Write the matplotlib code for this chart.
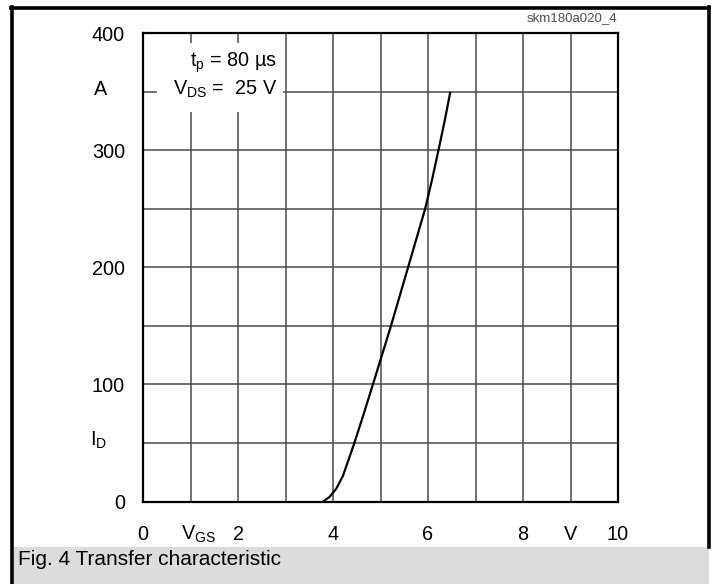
import numpy as np
import matplotlib
matplotlib.use('Agg')
import matplotlib.pyplot as plt
from matplotlib.patches import Rectangle
from matplotlib.lines import Line2D

plt.rcParams.update({
    "font.family": ["Liberation Sans", "DejaVu Sans"],
    "mathtext.fontset": "custom",
    "mathtext.rm": "Liberation Sans",
    "mathtext.it": "Liberation Sans:italic",
    "mathtext.default": "regular",
})

# transfer characteristic
vgs = [3.79, 3.93, 4.07, 4.21, 4.45, 4.64, 4.84, 5.03, 5.22, 5.40, 5.58,
       5.76, 5.94, 6.08, 6.22, 6.35, 6.47]
i_d = [0, 4, 11, 22, 50, 74, 100, 125, 150, 175, 200,
       225, 250, 274, 300, 325, 350]

x_ticks = list(range(0, 11))
x_labels = ['0', '', '2', '', '4', '', '6', '', '8', 'V', '10']
y_ticks = list(range(0, 401, 50))
y_labels = ['0', '', '100', '', '200', '', '300', '', '400']

W, H = 715, 584
fs = 14.3
fig = plt.figure(figsize=(W / 100, H / 100), dpi=100)

def fx(px):
    return px / W

def fy(py):
    return 1 - py / H

ax = fig.add_axes([fx(143), fy(501.5), fx(618) - fx(143), fy(33.3) - fy(501.5)])
ax.set_xlim(0, 10)
ax.set_ylim(0, 400)
ax.set_xticks(x_ticks)
ax.set_xticklabels(x_labels)
ax.set_yticks(y_ticks)
ax.set_yticklabels(y_labels)
ax.tick_params(axis='x', length=0, pad=17, labelsize=fs)
ax.tick_params(axis='y', length=0, pad=13, labelsize=fs)
ax.grid(True, color='#4a4a4a', linewidth=1.1)
ax.set_axisbelow(True)
for s in ax.spines.values():
    s.set_linewidth(1.6)
    s.set_color('black')

ax.plot(vgs, i_d, color='black', linewidth=1.6, zorder=3,
        solid_capstyle='butt', solid_joinstyle='round')

# white box behind the conditions text
ax.add_patch(Rectangle((0.29, 332.7), 2.66, 59, facecolor='white', edgecolor='none', zorder=2))
ax.text(2.82, 371.5, '$t_p$ = 80 µs', ha='right', va='baseline', fontsize=fs, zorder=4)
ax.text(2.82, 347.3, '$V_{DS}$ =  25 V', ha='right', va='baseline', fontsize=fs, zorder=4)

# axis unit / quantity labels
ax.text(-0.884, 347.3, 'A', ha='center', va='baseline', fontsize=fs, clip_on=False)
ax.text(-0.93, 47.7, '$I_D$', ha='center', va='baseline', fontsize=fs, clip_on=False)
ax.text(0.8, -32.9, '$V_{GS}$', ha='left', va='baseline', fontsize=fs, clip_on=False)

# frame and caption bar
lw = 2.6
fig.add_artist(Line2D([fx(11), fx(709)], [fy(7.5), fy(7.5)], color='black', linewidth=lw))
fig.add_artist(Line2D([fx(12), fx(12)], [fy(7), fy(584)], color='black', linewidth=lw))
fig.add_artist(Line2D([fx(709), fx(709)], [fy(7), fy(547)], color='black', linewidth=lw))
fig.add_artist(Rectangle((fx(13.5), fy(584)), fx(709) - fx(13.5), fy(547) - fy(584),
                         facecolor='#dcdcdc', edgecolor='none'))

fig.text(fx(18), fy(565), 'Fig. 4 Transfer characteristic', ha='left', va='baseline', fontsize=15)
fig.text(fx(617), fy(21), 'skm180a020_4', ha='right', va='baseline', fontsize=9.5, color='#505050')

fig.savefig('out.png', dpi=100)
